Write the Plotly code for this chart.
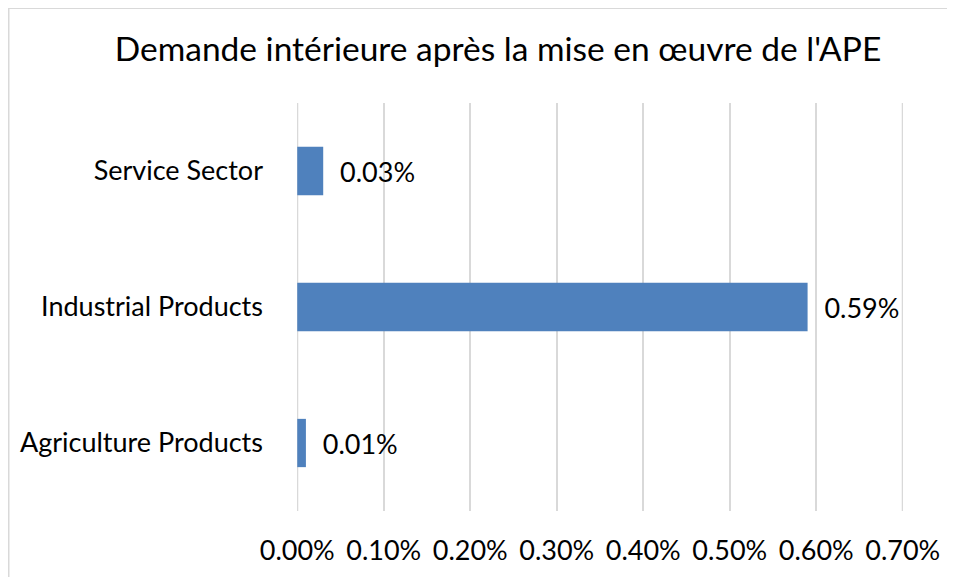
import plotly.graph_objects as go

categories = ["Agriculture Products", "Industrial Products", "Service Sector"]
values = [0.0001, 0.0059, 0.0003]
tick_vals = [0, 0.001, 0.002, 0.003, 0.004, 0.005, 0.006, 0.007]
title_text = "Demande intérieure après la mise en œuvre de l'APE"

FONT = "Lato"
FS = 27
GRID = "#d9d9d9"

# page body has an 8px margin, so the figure is sized/offset to compensate
W, H = 947, 569
L, R, T, B = 289, 52, 95, 66
PW, PH = W - L - R, H - T - B

fig = go.Figure(go.Bar(
    x=values, y=categories, orientation="h",
    marker=dict(color="#4f81bd", line=dict(width=0)),
    texttemplate="\u00a0\u00a0%{x:.2%}", textposition="outside",
    textfont=dict(family=FONT, size=FS, color="#000000"),
    cliponaxis=False, width=0.355,
))

# edge gridlines (plotly drops gridlines sitting on the range ends)
edge_lines = [dict(type="line", xref="x", yref="paper", x0=v, x1=v, y0=0, y1=1,
                   line=dict(color=GRID, width=2), layer="below")
              for v in (tick_vals[0], tick_vals[-1])]

fig.update_layout(
    width=W, height=H,
    margin=dict(l=L, r=R, t=T, b=B, autoexpand=False),
    paper_bgcolor="white", plot_bgcolor="white",
    font=dict(family=FONT, color="#000000"),
    title=dict(text=title_text, x=490 / W, xanchor="center", y=1 - 41 / H, yanchor="middle",
               font=dict(family=FONT, size=33.5, color="#000000")),
    showlegend=False,
    xaxis=dict(range=[-0.000003, 0.007003], tickvals=tick_vals, tickformat=".2%",
               showgrid=True, gridcolor=GRID, gridwidth=2,
               zeroline=False, showline=False, automargin=False,
               tickfont=dict(family=FONT, size=FS, color="#000000"),
               ticklabelstandoff=21),
    yaxis=dict(showgrid=False, zeroline=False, showline=False, automargin=False,
               tickfont=dict(family=FONT, size=FS, color="#000000"),
               ticklabelstandoff=33),
    shapes=[dict(type="rect", xref="paper", yref="paper",
                 x0=(0.75 - L) / PW, x1=(W + 10 - L) / PW,
                 y0=-(B + 10) / PH, y1=(PH + T - 0.2) / PH,
                 line=dict(color=GRID, width=1.5), fillcolor="rgba(0,0,0,0)",
                 layer="below")] + edge_lines,
)

fig.write_html("out.html")
